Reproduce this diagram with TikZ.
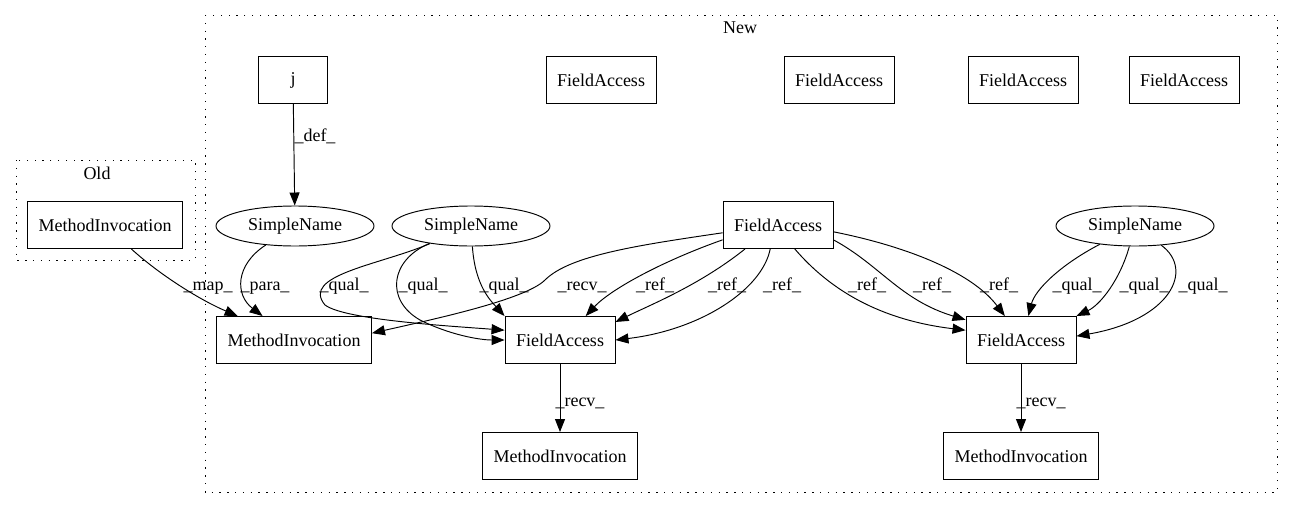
\documentclass[tikz,border=0pt]{standalone}
\usepackage{fontspec}
\setmainfont{Liberation Serif}
\usetikzlibrary{arrows.meta,shapes.geometric}
\begin{document}
\begin{tikzpicture}[x=1pt,y=-1pt,line width=0.95pt,
        every node/.style={font=\fontsize{18}{21}\selectfont},
        box/.style={draw=black,minimum width=69pt,minimum height=47pt,inner xsep=11pt},
        oval/.style={ellipse,draw=black,minimum width=158pt,minimum height=40pt,inner sep=0pt},
        lbl/.style={anchor=base,inner sep=0pt},
        edge/.style={-{Triangle[length=13pt,width=10pt]}},
        clus/.style={draw=black,dash pattern=on 1.3pt off 6.5pt}]
    \useasboundingbox (0,0) rectangle (1292,508);
    \draw[clus] (16,160) rectangle (195,260);
    \draw[clus] (205,15) rectangle (1277,492);
    \node[lbl] (old) at (97,179) {Old};
    \node[lbl] (new) at (740,34) {New};

    \node[box] (mi0) at (105,225) {MethodInvocation};
    \node[box] (j) at (293,80) {j};
    \node[box] (fa1) at (601,80) {FieldAccess};
    \node[box] (fa2) at (839,80) {FieldAccess};
    \node[box] (fa3) at (1023,80) {FieldAccess};
    \node[box] (fa4) at (1184,80) {FieldAccess};
    \node[oval] (sn1) at (295,226) {SimpleName};
    \node[oval] (sn2) at (471,226) {SimpleName};
    \node[box] (fa5) at (778,225) {FieldAccess};
    \node[oval] (sn3) at (1135,226) {SimpleName};
    \node[box] (mi1) at (294,340) {MethodInvocation};
    \node[box] (fa6) at (560,340) {FieldAccess};
    \node[box] (fa7) at (1021,340) {FieldAccess};
    \node[box] (mi2) at (560,456) {MethodInvocation};
    \node[box] (mi3) at (1021,456) {MethodInvocation};

    \draw[edge] (j) -- (sn1);
    \draw[edge] (mi0) .. controls (160,275) and (200,300) .. (mi1);
    \draw[edge] (sn1) .. controls (235,265) and (235,295) .. (mi1);
    \draw[edge] (sn2) .. controls (380,265) and (300,275) .. (325,305) .. controls (345,320) and (450,326) .. (fa6.170);
    \draw[edge] (sn2) .. controls (390,260) and (385,300) .. (420,320) .. controls (450,335) and (480,340) .. (fa6.west);
    \draw[edge] (sn2) .. controls (475,285) and (490,300) .. (fa6.north west);
    \draw[edge] (fa5.188) .. controls (640,245) and (570,255) .. (545,280) .. controls (525,300) and (430,320) .. (mi1.5);
    \draw[edge] (fa5.195) .. controls (660,262) and (610,290) .. (fa6.43);
    \draw[edge] (fa5.216) .. controls (700,285) and (650,305) .. (fa6.18);
    \draw[edge] (fa5.252) .. controls (762,290) and (700,330) .. (fa6.east);
    \draw[edge] (fa5.305) .. controls (830,290) and (880,320) .. (fa7.170);
    \draw[edge] (fa5.-15) .. controls (880,265) and (900,300) .. (fa7.160);
    \draw[edge] (fa5.-7) .. controls (900,245) and (970,270) .. (fa7.124);
    \draw[edge] (sn3) .. controls (1060,265) and (1035,290) .. (fa7.73);
    \draw[edge] (sn3) .. controls (1120,280) and (1100,305) .. (fa7.north east);
    \draw[edge] (sn3) .. controls (1195,270) and (1170,320) .. (fa7.4);
    \draw[edge] (fa6) -- (mi2);
    \draw[edge] (fa7) -- (mi3);

    \node[lbl] (l1) at (315,142) {\_def\_};
    \node[lbl] (l2) at (208,290) {\_map\_};
    \node[lbl] (l3) at (265,290) {\_para\_};
    \node[lbl] (l4) at (344,290) {\_qual\_};
    \node[lbl] (l5) at (423,290) {\_qual\_};
    \node[lbl] (l6) at (504,290) {\_qual\_};
    \node[lbl] (l7) at (582,290) {\_recv\_};
    \node[lbl] (l8) at (655,290) {\_ref\_};
    \node[lbl] (l9) at (727,290) {\_ref\_};
    \node[lbl] (l10) at (782,290) {\_ref\_};
    \node[lbl] (l11) at (867,290) {\_ref\_};
    \node[lbl] (l12) at (932,290) {\_ref\_};
    \node[lbl] (l13) at (999,290) {\_ref\_};
    \node[lbl] (l14) at (1077,290) {\_qual\_};
    \node[lbl] (l15) at (1144,290) {\_qual\_};
    \node[lbl] (l16) at (1203,290) {\_qual\_};
    \node[lbl] (l17) at (580,406) {\_recv\_};
    \node[lbl] (l18) at (1041,406) {\_recv\_};

\end{tikzpicture}
\end{document}
